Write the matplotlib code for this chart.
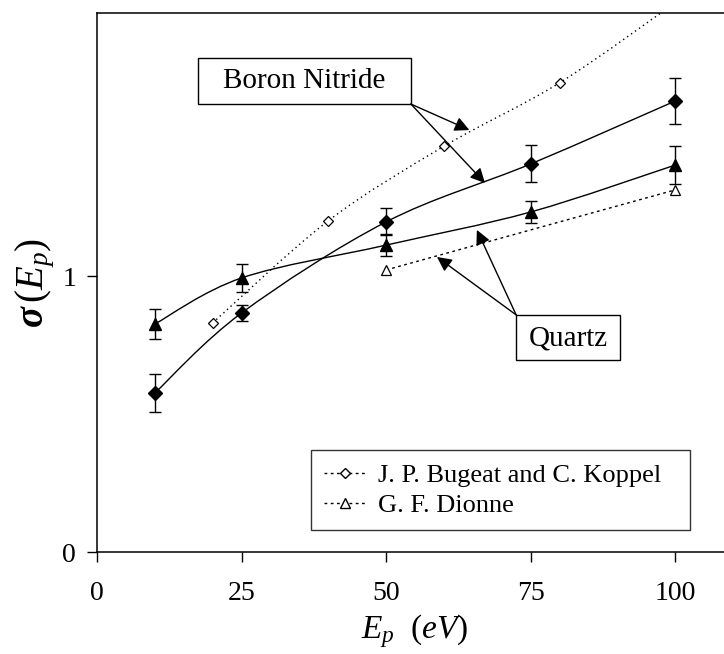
import numpy as np
import matplotlib
matplotlib.use("Agg")
import matplotlib.pyplot as plt
from matplotlib.path import Path
from matplotlib.patches import PathPatch, Rectangle
from matplotlib.lines import Line2D

plt.rcParams['font.family'] = ['Liberation Serif', 'DejaVu Serif']
plt.rcParams['mathtext.fontset'] = 'custom'
plt.rcParams['mathtext.rm'] = 'Liberation Serif'
plt.rcParams['mathtext.it'] = 'Liberation Serif:italic'
plt.rcParams['mathtext.bf'] = 'Liberation Serif:bold:italic'

# measured data (boron nitride = diamonds, quartz = triangles)
energy = [10, 25, 50, 75, 100]
bn_sigma = [0.576, 0.866, 1.196, 1.406, 1.634]
bn_err = [0.069, 0.030, 0.049, 0.067, 0.082]
qz_sigma = [0.826, 0.993, 1.112, 1.232, 1.402]
qz_err = [0.054, 0.050, 0.040, 0.040, 0.070]

# reference data
bugeat_e = [20, 40, 60, 80, 100]
bugeat_sigma = [0.83, 1.20, 1.47, 1.70, 1.99]
dionne_e = [50, 100]
dionne_sigma = [1.022, 1.312]

xticks = [0, 25, 50, 75, 100]
yticks = [0, 1]


def smooth_path(x, y):
    # excel-like smoothed line, bezier segments through the points
    pts = np.column_stack([x, y]).astype(float)
    verts = [pts[0]]
    codes = [Path.MOVETO]
    for i in range(len(pts) - 1):
        p0 = pts[i - 1] if i > 0 else pts[i]
        p1 = pts[i]
        p2 = pts[i + 1]
        p3 = pts[i + 2] if i + 2 < len(pts) else pts[i + 1]
        verts += [p1 + (p2 - p0) / 6, p2 - (p3 - p1) / 6, p2]
        codes += [Path.CURVE4] * 3
    return Path(verts, codes)


fig = plt.figure(figsize=(7.24, 6.54), dpi=100)
ax = fig.add_axes([97 / 724, 102 / 654, 636 / 724, 539 / 654])

ax.add_patch(PathPatch(smooth_path(energy, bn_sigma), fill=False, lw=1.0, ec='black'))
ax.add_patch(PathPatch(smooth_path(energy, qz_sigma), fill=False, lw=1.0, ec='black'))
ax.add_patch(PathPatch(smooth_path(bugeat_e, bugeat_sigma), fill=False, lw=1.0,
                       ec='black', linestyle=(0, (1, 2.5))))
ax.add_patch(PathPatch(smooth_path(dionne_e, dionne_sigma), fill=False, lw=1.0,
                       ec='black', linestyle=(0, (2, 2.5))))

ax.errorbar(energy, bn_sigma, yerr=bn_err, fmt='D', color='black', ms=7,
            capsize=4, elinewidth=1.0, capthick=1.0, zorder=4)
ax.errorbar(energy, qz_sigma, yerr=qz_err, fmt='^', color='black', ms=8,
            capsize=4, elinewidth=1.0, capthick=1.0, zorder=4)
ax.plot(bugeat_e, bugeat_sigma, 'D', ms=5, mfc='white', mec='black', mew=0.9, zorder=5)
ax.plot(dionne_e, dionne_sigma, '^', ms=7, mfc='white', mec='black', mew=0.9, zorder=5)

ax.set_xlim(0, 110)
ax.set_ylim(0, 1.953)
ax.set_xticks(xticks)
ax.set_yticks(yticks)
ax.spines['right'].set_visible(False)
for s in ['left', 'bottom', 'top']:
    ax.spines[s].set_linewidth(1.1)
ax.tick_params(axis='both', direction='out', length=7, width=1.0, labelsize=20)
ax.tick_params(axis='x', pad=14)
ax.tick_params(axis='y', pad=8)

ax.set_xlabel(r'$E_p\ \ (eV)$', fontsize=24, labelpad=4)
ax.set_ylabel(r'$\mathbf{\sigma}\,(E_p)$', fontsize=28, labelpad=4)

# label boxes with arrows
ax.add_patch(Rectangle((17.5, 1.623), 36.8, 0.167, fill=False, ec='black', lw=1.0, zorder=6))
ax.text(35.9, 1.706, 'Boron Nitride', fontsize=21, ha='center', va='center', zorder=6)
for head in [(64.4, 1.529), (67.1, 1.337)]:
    ax.annotate('', xy=head, xytext=(54.3, 1.623),
                arrowprops=dict(arrowstyle='-|>', color='black', lw=1.0,
                                mutation_scale=22, shrinkA=0, shrinkB=0))

ax.add_patch(Rectangle((72.5, 0.696), 18.0, 0.163, fill=False, ec='black', lw=1.0, zorder=6))
ax.text(81.5, 0.775, 'Quartz', fontsize=21, ha='center', va='center', zorder=6)
for head in [(58.8, 1.069), (65.7, 1.167)]:
    ax.annotate('', xy=head, xytext=(72.5, 0.859),
                arrowprops=dict(arrowstyle='-|>', color='black', lw=1.0,
                                mutation_scale=22, shrinkA=0, shrinkB=0))

handles = [
    Line2D([], [], color='black', lw=1.0, linestyle=(0, (2, 2.5)), marker='D', ms=5,
           mfc='white', mec='black'),
    Line2D([], [], color='black', lw=1.0, linestyle=(0, (2, 2.5)), marker='^', ms=7,
           mfc='white', mec='black'),
]
leg = ax.legend(handles, ['J. P. Bugeat and C. Koppel', 'G. F. Dionne'],
                loc='lower left', bbox_to_anchor=(214 / 636, 22 / 539, 379 / 636, 0.1),
                mode='expand', fontsize=19, numpoints=1, handlelength=1.6,
                handletextpad=0.45, fancybox=False, edgecolor='#333333', framealpha=1,
                borderpad=0.5, labelspacing=0.25, borderaxespad=0)
leg.get_frame().set_linewidth(1.0)

fig.savefig('out.png', dpi=100)
